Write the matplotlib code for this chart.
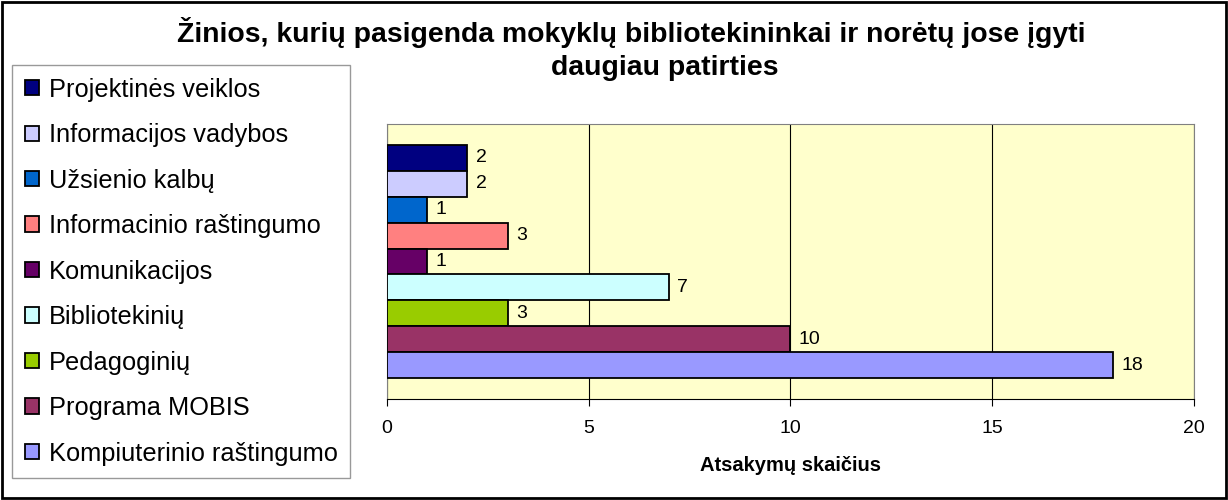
import matplotlib.pyplot as plt
from matplotlib.patches import Rectangle

# ----------------------------
# Data
# ----------------------------
categories = [
    "Projektinės veiklos",
    "Informacijos vadybos",
    "Užsienio kalbų",
    "Informacinio raštingumo",
    "Komunikacijos",
    "Bibliotekinių",
    "Pedagoginių",
    "Programa MOBIS",
    "Kompiuterinio raštingumo",
]
answers = [2, 2, 1, 3, 1, 7, 3, 10, 18]
colors = ["#000080", "#CCCCFF", "#0066CC", "#FF8080", "#660066",
          "#CCFFFF", "#99CC00", "#993366", "#9999FF"]
x_ticks = [0, 5, 10, 15, 20]

title_lines = ["Žinios, kurių pasigenda mokyklų bibliotekininkai ir norėtų jose įgyti",
               "daugiau patirties"]
x_label = "Atsakymų skaičius"

plt.rcParams['font.family'] = ['Liberation Sans', 'DejaVu Sans']

# ----------------------------
# Figure
# ----------------------------
fig = plt.figure(figsize=(12.28, 5), dpi=100)
fig.patches.append(Rectangle((0.002, 0.004), 0.996, 0.992, transform=fig.transFigure,
                             fill=False, edgecolor='black', linewidth=2))

ax = fig.add_axes([0.315, 0.202, 0.657, 0.55])
ax.set_facecolor("#FFFFCC")

n = len(categories)
handles = []
for i, (cat, val, col) in enumerate(zip(categories, answers, colors)):
    y = n - 1 - i
    h = ax.barh(y, val, height=1.0, color=col, edgecolor='black', linewidth=1.3, label=cat, zorder=3)
    handles.append(h)
    ax.text(val + 0.2, y, str(val), va='center', ha='left', fontsize=14, zorder=4)

ax.set_xlim(0, 20)
ax.set_ylim(-1.3, n - 1 + 1.3)
ax.set_xticks(x_ticks)
ax.set_yticks([])
ax.xaxis.grid(True, color='black', linewidth=0.8, zorder=0)
ax.tick_params(axis='x', direction='out', length=5, labelsize=14, pad=10)
for s in ax.spines.values():
    s.set_color('#808080')
ax.spines['bottom'].set_color('black')
ax.set_xlabel(x_label, fontsize=14.5, fontweight='bold', labelpad=14)

fig.text(0.514, 0.934, title_lines[0], ha='center', va='center', fontsize=20.4, fontweight='bold')
fig.text(0.541, 0.864, title_lines[1], ha='center', va='center', fontsize=20.4, fontweight='bold')

leg = fig.legend(handles=handles, labels=categories, loc='upper left',
                 bbox_to_anchor=(0.0098, 0.87), fontsize=18.3, frameon=True,
                 fancybox=False, edgecolor='#808080', handlelength=0.55, handleheight=0.55,
                 handletextpad=0.4, labelspacing=0.845, borderpad=0.5, borderaxespad=0)
leg.get_frame().set_linewidth(1.0)

fig.savefig("out.png", dpi=100)
